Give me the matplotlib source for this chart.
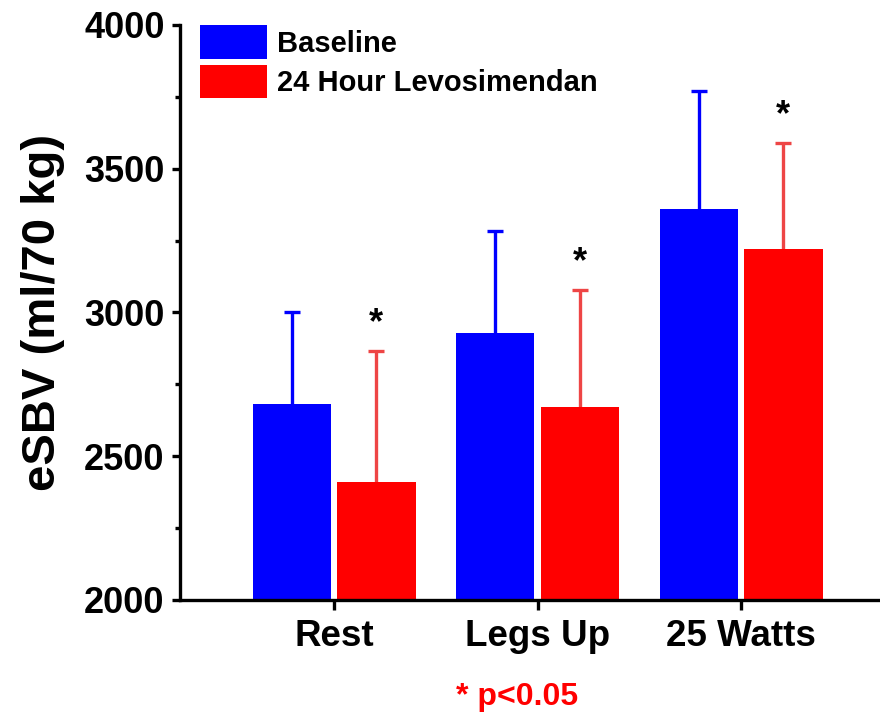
import matplotlib
matplotlib.use("Agg")
import matplotlib.pyplot as plt
import numpy as np
from matplotlib.ticker import MultipleLocator

plt.rcParams['font.family'] = ['Liberation Sans', 'DejaVu Sans']
plt.rcParams['font.weight'] = 'bold'

conditions = ['Rest', 'Legs Up', '25 Watts']
baseline = [2680, 2930, 3360]
baseline_sd = [322, 354, 410]
levo = [2410, 2671, 3221]
levo_sd = [455, 407, 369]
significant = [True, True, True]

blue = '#0000FF'
red = '#FF0000'
red_err = '#EE4545'

fig = plt.figure(figsize=(8.8, 7.16), dpi=100)
ax = fig.add_axes([180 / 880, 116 / 716, 700 / 880, 575 / 716])

x = np.arange(len(conditions))
w = 0.385
off = 0.208

ax.bar(x - off, baseline, w, color=blue, label='Baseline', zorder=2)
ax.bar(x + off, levo, w, color=red, label='24 Hour Levosimendan', zorder=2)

# upper error bars only: hide the lower caps
for xs, m, s, c in [(x - off, baseline, baseline_sd, blue), (x + off, levo, levo_sd, red_err)]:
    eb = ax.errorbar(xs, m, yerr=[np.zeros(3), s], fmt='none', ecolor=c,
                     elinewidth=2.4, capsize=6, capthick=2.4, zorder=1)
    eb[1][0].set_visible(False)

# significance stars above the levosimendan error bars
for xi, m, s, sig in zip(x, levo, levo_sd, significant):
    if sig:
        ax.annotate('*', (xi + off, m + s), xytext=(0, 7), textcoords='offset points',
                    ha='center', va='bottom', fontsize=26, fontweight='bold')

ax.set_xlim(-0.757, 2.683)
ax.set_ylim(2000, 4000)
ax.yaxis.set_major_locator(MultipleLocator(500))
ax.yaxis.set_minor_locator(MultipleLocator(250))
ax.set_xticks(x)
ax.set_xticklabels(conditions, fontsize=26.5, fontweight='bold')
for lab in ax.get_yticklabels():
    lab.set_fontsize(26)
    lab.set_fontweight('bold')

for side in ['top', 'right']:
    ax.spines[side].set_visible(False)
for side in ['left', 'bottom']:
    ax.spines[side].set_linewidth(2.4)

ax.tick_params(axis='y', which='major', length=6, width=2.4, pad=5)
ax.tick_params(axis='y', which='minor', length=3.5, width=2.4)
ax.tick_params(axis='x', which='major', length=7, width=2.4, pad=7)

ax.set_ylabel('eSBV (ml/70 kg)', fontsize=34, fontweight='bold', labelpad=14)

leg = ax.legend(loc='upper left', bbox_to_anchor=(20 / 700, 1.0), frameon=False,
                fontsize=21, handlelength=2.3, handleheight=1.4,
                handletextpad=0.33, labelspacing=0.2, borderpad=0, borderaxespad=0)
for t in leg.get_texts():
    t.set_fontweight('bold')

fig.text(517 / 880, 19 / 716, '* p<0.05', color=red, fontsize=23,
         fontweight='bold', ha='center', va='center')

fig.savefig('out.png', dpi=100)
